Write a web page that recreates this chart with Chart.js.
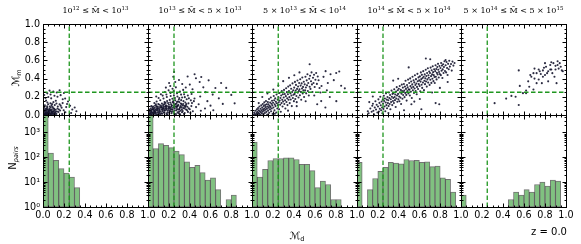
<!DOCTYPE html>
<html>
<head>
<meta charset="utf-8">
<script src="https://cdn.jsdelivr.net/npm/chart.js@4.4.1/dist/chart.umd.min.js"></script>
<style>
body { margin: 0; background: #fff; }
#fig { position: relative; width: 581px; height: 244px; overflow: hidden; background: #fff; }
#fig canvas { position: absolute; left: 0; top: 0; }
.lbl { position: absolute; white-space: nowrap; color: #000; line-height: 1; }
.title { top: 6px; font: 8px "DejaVu Serif", serif; transform: translateX(-50%); }
.title sup { font-size: 5.5px; vertical-align: 3px; line-height: 0; }
.ylab { transform: translate(-50%, -50%) rotate(-90deg); font: 10px "DejaVu Sans", sans-serif; }
.ylab sub, .xlab sub { font-size: 6.5px; vertical-align: -2px; line-height: 0; }
.xlab { transform: translate(-50%, -50%); font: 10px "DejaVu Sans", sans-serif; }
</style>
</head>
<body>
<div id="fig"></div>
<script>
// mass ranges (panel titles)
const massRanges = [
  "10<sup>12</sup> ≤ M̄ &lt; 10<sup>13</sup>",
  "10<sup>13</sup> ≤ M̄ &lt; 5 × 10<sup>13</sup>",
  "5 × 10<sup>13</sup> ≤ M̄ &lt; 10<sup>14</sup>",
  "10<sup>14</sup> ≤ M̄ &lt; 5 × 10<sup>14</sup>",
  "5 × 10<sup>14</sup> ≤ M̄ &lt; 5 × 10<sup>15</sup>"
];

const cut = 0.25;
const xTicks = [0, 0.2, 0.4, 0.6, 0.8, 1.0];
const yTicksTop = [0, 0.2, 0.4, 0.6, 0.8, 1.0];
const yTicksLog = [1, 10, 100, 1000];
const logMax = 5000;

// histogram bins of M_d (centres)
const mdBins = [0.025, 0.075, 0.125, 0.175, 0.225, 0.275, 0.325, 0.375, 0.425, 0.475,
                0.525, 0.575, 0.625, 0.675, 0.725, 0.775, 0.825, 0.875, 0.925, 0.975];

const pairs1 = [9000, 148, 76, 35, 23, 16, 6, null, null, null, null, null, null, null, null, null, null, null, null, null];
const pairs2 = [8000, 224, 355, 302, 245, 178, 128, 65, 39, 47, 24, 12, 15, 5, null, 2, 3, null, null, null];
const pairs3 = [410, 16, 33, 74, 89, 89, 94, 94, 81, 52, 52, 29, 6, 11, 8, 2, 2, null, null, null];
const pairs4 = [62, null, 5, 14, 27, 39, 62, 58, 54, 81, 74, 76, 62, 65, 42, 44, 15, 13, 4, null];
const pairs5 = [3, null, null, null, null, null, null, null, null, 2, 4, 3, 5, 4, 8, 10, 7, 12, 11, null];

// (M_d, M_m) of the pairs
const cloud1 = [
  [0.008,0.004],[0.014,0.019],[0.019,0.008],[0.024,0.031],[0.029,0.013],[0.033,0.044],[0.038,0.006],[0.043,0.024],[0.047,0.057],[0.052,0.011],
  [0.057,0.036],[0.061,0.068],[0.066,0.017],[0.071,0.047],[0.075,0.003],[0.079,0.029],[0.084,0.061],[0.089,0.014],[0.093,0.039],[0.098,0.073],
  [0.103,0.022],[0.108,0.051],[0.113,0.008],[0.118,0.034],[0.011,0.037],[0.016,0.052],[0.022,0.066],[0.027,0.002],[0.031,0.027],[0.036,0.059],
  [0.041,0.079],[0.046,0.016],[0.051,0.043],[0.056,0.004],[0.062,0.026],[0.068,0.057],[0.073,0.082],[0.077,0.012],[0.082,0.044],[0.087,0.027],
  [0.092,0.088],[0.097,0.009],[0.102,0.041],[0.107,0.067],[0.114,0.021],[0.121,0.058],[0.127,0.012],[0.133,0.039],[0.138,0.071],[0.006,0.071],
  [0.013,0.088],[0.039,0.096],[0.064,0.093],[0.021,0.047],[0.048,0.032],[0.059,0.053],[0.026,0.014],[0.034,0.071],[0.017,0.006],[0.044,0.004],
  [0.018,0.107],[0.049,0.118],[0.081,0.102],[0.112,0.109],[0.141,0.093],[0.158,0.118],[0.177,0.081],[0.042,0.138],[0.099,0.141],[0.128,0.127],
  [0.071,0.128],[0.168,0.103],[0.187,0.131],[0.151,0.061],[0.197,0.052],[0.221,0.087],[0.029,0.158],[0.122,0.157],[0.147,0.033],[0.163,0.049],
  [0.086,0.119],
  [0.023,0.187],[0.051,0.198],[0.078,0.183],[0.109,0.212],[0.041,0.238],[0.072,0.226],[0.098,0.258],[0.138,0.201],[0.168,0.218],[0.131,0.247],
  [0.158,0.272],[0.199,0.241],[0.062,0.268],[0.012,0.219],[0.188,0.173],[0.238,0.148],[0.258,0.102],[0.279,0.061],[0.302,0.083],[0.318,0.041],
  [0.268,0.022],[0.229,0.121],[0.211,0.182],[0.183,0.011],[0.213,0.031]
];
const cloud2 = [
  [0.013,0.006],[0.021,0.024],[0.028,0.011],[0.034,0.047],[0.041,0.018],[0.047,0.063],[0.053,0.005],[0.059,0.034],[0.066,0.079],[0.072,0.014],
  [0.078,0.052],[0.084,0.097],[0.091,0.027],[0.097,0.068],[0.103,0.009],[0.109,0.113],[0.116,0.041],[0.122,0.083],[0.128,0.019],[0.134,0.127],
  [0.141,0.056],[0.147,0.094],[0.153,0.031],[0.159,0.142],[0.166,0.071],[0.172,0.107],[0.178,0.012],[0.184,0.153],[0.191,0.046],[0.197,0.088],
  [0.203,0.024],[0.209,0.166],[0.216,0.062],[0.222,0.118],[0.228,0.037],[0.234,0.178],[0.241,0.079],[0.247,0.131],[0.253,0.016],[0.259,0.187],
  [0.266,0.094],[0.272,0.052],[0.278,0.143],[0.284,0.029],[0.291,0.111],[0.297,0.171],[0.303,0.067],[0.309,0.008],[0.316,0.126],[0.322,0.084],
  [0.328,0.192],[0.334,0.043],[0.341,0.152],[0.347,0.101],[0.353,0.022],[0.359,0.138],[0.366,0.061],[0.372,0.173],[0.378,0.091],[0.384,0.034],
  [0.017,0.039],[0.026,0.071],[0.038,0.029],[0.049,0.092],[0.057,0.051],[0.069,0.033],[0.076,0.118],[0.088,0.061],[0.094,0.004],[0.106,0.087],
  [0.113,0.022],[0.124,0.104],[0.137,0.038],[0.144,0.071],[0.156,0.119],[0.163,0.049],[0.174,0.087],[0.186,0.028],[0.193,0.131],[0.206,0.073],
  [0.213,0.041],[0.224,0.096],[0.237,0.057],[0.244,0.154],[0.257,0.073],[0.263,0.119],[0.276,0.081],[0.288,0.148],[0.299,0.037],[0.312,0.097],
  [0.326,0.061],[0.338,0.121],[0.351,0.071],[0.364,0.103],[0.389,0.128],[0.402,0.064],[0.417,0.098],[0.431,0.042],[0.012,0.057],[0.032,0.097],
  [0.061,0.131],[0.083,0.148],[0.118,0.162],[0.149,0.181],[0.181,0.198],[0.218,0.208],[0.249,0.216],[0.283,0.203],[0.318,0.224],[0.354,0.196],
  [0.393,0.183],[0.441,0.152],[0.462,0.087],[0.487,0.118],[0.508,0.046],
  [0.018,0.013],[0.024,0.052],[0.031,0.036],[0.036,0.004],[0.044,0.081],[0.051,0.027],[0.055,0.069],[0.063,0.044],[0.068,0.102],[0.074,0.031],
  [0.081,0.009],[0.086,0.074],[0.093,0.047],[0.099,0.121],[0.104,0.032],[0.111,0.066],[0.119,0.004],[0.126,0.091],[0.131,0.061],[0.138,0.013],
  [0.145,0.109],[0.151,0.077],[0.158,0.026],[0.164,0.093],[0.169,0.133],[0.176,0.059],[0.182,0.098],[0.188,0.004],[0.195,0.067],[0.201,0.112],
  [0.207,0.047],[0.214,0.137],[0.219,0.081],[0.226,0.019],[0.231,0.104],[0.238,0.141],[0.243,0.036],[0.249,0.089],[0.256,0.049],[0.262,0.161],
  [0.269,0.011],[0.274,0.123],[0.281,0.064],[0.287,0.099],[0.294,0.018],[0.301,0.142],[0.307,0.083],[0.314,0.047],[0.319,0.163],[0.327,0.031],
  [0.332,0.104],[0.339,0.076],[0.346,0.012],[0.357,0.089],[0.368,0.119],[0.376,0.052],[0.391,0.073],[0.408,0.023],[0.423,0.131],[0.038,0.061],
  [0.059,0.016],[0.071,0.061],[0.089,0.088],[0.108,0.051],[0.134,0.081],[0.155,0.054],[0.179,0.071],[0.204,0.089],[0.229,0.063],[0.253,0.108],
  [0.279,0.097],[0.297,0.061],[0.323,0.117],
  [0.102,0.187],[0.141,0.213],[0.177,0.226],[0.216,0.243],[0.246,0.262],[0.279,0.238],[0.307,0.257],[0.198,0.271],[0.236,0.289],[0.268,0.304],
  [0.163,0.252],[0.124,0.228],[0.301,0.186],[0.347,0.227],[0.383,0.214],[0.412,0.161],[0.447,0.181],[0.338,0.276],[0.214,0.318],[0.079,0.204],
  [0.262,0.362],[0.243,0.421],[0.251,0.472],[0.298,0.384],[0.329,0.341],[0.363,0.302],[0.402,0.334],[0.428,0.283],[0.461,0.404],[0.497,0.362],
  [0.532,0.304],[0.553,0.251],[0.502,0.203],[0.571,0.152],[0.601,0.103],[0.622,0.224],[0.648,0.297],[0.583,0.381],[0.681,0.183],[0.719,0.122],
  [0.752,0.298],[0.801,0.221],[0.448,0.447],[0.381,0.423],[0.703,0.352],[0.628,0.053],[0.548,0.071],[0.203,0.352],[0.172,0.301],[0.419,0.231],
  [0.833,0.128],[0.512,0.418]
];
const cloud3 = [
  [0.012,0.006],[0.021,0.028],[0.027,0.011],[0.034,0.047],[0.038,0.003],[0.043,0.021],[0.047,0.062],
  [0.051,0.036],[0.054,0.008],[0.058,0.077],[0.061,0.024],[0.064,0.052],[0.068,0.014],[0.071,0.093],[0.074,0.041],[0.078,0.003],[0.081,0.068],
  [0.084,0.029],[0.088,0.106],[0.091,0.051],[0.094,0.017],[0.097,0.083],
  [0.101,0.037],[0.103,0.121],[0.106,0.064],[0.109,0.009],[0.112,0.098],[0.114,0.046],[0.117,0.139],[0.119,0.072],[0.122,0.021],[0.125,0.109],
  [0.128,0.057],[0.131,0.087],[0.133,0.153],[0.136,0.034],[0.139,0.118],[0.142,0.068],[0.145,0.006],[0.148,0.093],
  [0.151,0.142],[0.153,0.048],[0.156,0.117],[0.159,0.081],[0.162,0.176],[0.164,0.024],[0.167,0.101],[0.171,0.063],[0.173,0.138],[0.176,0.089],
  [0.179,0.192],[0.182,0.041],[0.185,0.124],[0.188,0.071],[0.191,0.157],[0.194,0.106],[0.197,0.012],
  [0.201,0.134],[0.204,0.083],[0.207,0.208],[0.211,0.162],[0.214,0.051],[0.217,0.117],[0.221,0.183],[0.224,0.098],[0.227,0.146],[0.231,0.027],
  [0.234,0.226],[0.237,0.129],[0.241,0.071],[0.244,0.171],[0.247,0.108],
  [0.251,0.197],[0.254,0.139],[0.258,0.064],[0.261,0.241],[0.264,0.158],[0.268,0.112],[0.271,0.186],[0.274,0.036],[0.278,0.214],[0.281,0.131],
  [0.284,0.263],[0.288,0.167],[0.291,0.094],[0.294,0.228],[0.297,0.148],
  [0.302,0.192],[0.305,0.276],[0.308,0.121],[0.312,0.231],[0.315,0.162],[0.318,0.071],[0.322,0.207],[0.325,0.294],[0.328,0.143],[0.332,0.251],
  [0.335,0.183],[0.338,0.109],[0.342,0.228],[0.345,0.312],[0.348,0.168],
  [0.352,0.264],[0.356,0.196],[0.359,0.131],[0.363,0.326],[0.366,0.238],[0.369,0.171],[0.373,0.289],[0.376,0.214],[0.379,0.098],[0.383,0.253],
  [0.386,0.347],[0.389,0.186],[0.393,0.272],[0.396,0.223],[0.399,0.152],
  [0.402,0.301],[0.406,0.232],[0.409,0.364],[0.412,0.176],[0.416,0.268],[0.419,0.331],[0.423,0.208],[0.426,0.141],[0.429,0.287],[0.433,0.379],
  [0.436,0.246],[0.439,0.314],[0.443,0.193],[0.446,0.262],[0.449,0.351],
  [0.452,0.282],[0.456,0.217],[0.459,0.393],[0.463,0.323],[0.466,0.254],[0.469,0.168],[0.473,0.347],[0.476,0.291],[0.479,0.412],[0.483,0.236],
  [0.486,0.309],[0.489,0.271],[0.493,0.366],[0.496,0.198],
  [0.502,0.337],[0.506,0.271],[0.509,0.421],[0.513,0.302],[0.516,0.238],[0.521,0.381],[0.524,0.326],[0.528,0.447],[0.532,0.263],[0.536,0.352],
  [0.541,0.214],[0.545,0.398],[0.549,0.311],
  [0.553,0.432],[0.557,0.287],[0.562,0.371],[0.567,0.468],[0.571,0.336],[0.576,0.252],[0.581,0.409],[0.586,0.352],[0.591,0.443],[0.597,0.308],
  [0.604,0.387],[0.611,0.461],[0.618,0.342],[0.626,0.423],[0.634,0.382],[0.643,0.297],
  [0.549,0.558],[0.681,0.419],[0.701,0.482],[0.722,0.352],[0.748,0.447],[0.779,0.383],[0.802,0.461],[0.831,0.478],[0.849,0.322],[0.741,0.198],
  [0.659,0.153],[0.064,0.131],[0.621,0.118],[0.699,0.083],[0.803,0.152],[0.884,0.293],[0.662,0.318],[0.713,0.271],[0.652,0.248],[0.098,0.198],
  [0.147,0.236],[0.203,0.279],[0.251,0.324],[0.297,0.372],[0.352,0.408],[0.403,0.437],[0.452,0.468],[0.218,0.014],[0.343,0.048],[0.426,0.097],
  [0.511,0.151],[0.593,0.214]
];
const cloud4 = [
  [0.112,0.018],[0.128,0.071],[0.141,0.035],[0.147,0.102],
  [0.153,0.124],[0.158,0.047],[0.164,0.009],[0.171,0.083],[0.177,0.151],[0.183,0.061],[0.189,0.112],[0.196,0.027],
  [0.202,0.094],[0.206,0.172],[0.211,0.038],[0.216,0.133],[0.219,0.069],[0.224,0.201],[0.228,0.107],[0.232,0.052],[0.237,0.148],[0.241,0.083],
  [0.244,0.019],[0.248,0.171],
  [0.251,0.126],[0.254,0.067],[0.258,0.211],[0.261,0.154],[0.265,0.093],[0.268,0.182],[0.272,0.041],[0.276,0.137],[0.279,0.238],[0.283,0.108],
  [0.286,0.169],[0.289,0.074],[0.293,0.197],[0.297,0.131],
  [0.301,0.162],[0.304,0.098],[0.307,0.247],[0.311,0.186],[0.314,0.121],[0.318,0.219],[0.321,0.063],[0.325,0.173],[0.328,0.142],[0.332,0.268],
  [0.335,0.201],[0.339,0.109],[0.342,0.232],[0.346,0.154],[0.349,0.187],
  [0.352,0.241],[0.355,0.132],[0.358,0.283],[0.362,0.197],[0.365,0.163],[0.368,0.226],[0.372,0.088],[0.375,0.259],[0.378,0.181],[0.382,0.306],
  [0.385,0.214],[0.388,0.146],[0.392,0.272],[0.395,0.232],[0.398,0.172],
  [0.402,0.289],[0.405,0.203],[0.408,0.151],[0.411,0.318],[0.414,0.247],[0.418,0.191],[0.421,0.276],[0.424,0.121],[0.428,0.233],[0.431,0.334],
  [0.434,0.264],[0.437,0.178],[0.441,0.301],[0.444,0.219],[0.447,0.252],
  [0.451,0.341],[0.454,0.268],[0.457,0.196],[0.461,0.312],[0.464,0.243],[0.467,0.377],[0.471,0.287],[0.474,0.221],[0.477,0.158],[0.481,0.329],
  [0.484,0.262],[0.487,0.304],[0.491,0.389],[0.494,0.236],[0.497,0.282],
  [0.502,0.351],[0.505,0.278],[0.508,0.214],[0.511,0.402],[0.514,0.317],[0.518,0.256],[0.521,0.368],[0.524,0.297],[0.527,0.186],[0.531,0.336],
  [0.534,0.421],[0.537,0.272],[0.541,0.309],[0.544,0.382],[0.548,0.243],
  [0.551,0.358],[0.554,0.291],[0.557,0.437],[0.561,0.329],[0.564,0.264],[0.567,0.394],[0.571,0.346],[0.574,0.228],[0.577,0.309],[0.581,0.452],
  [0.584,0.371],[0.587,0.286],[0.591,0.413],[0.594,0.339],[0.598,0.381],
  [0.602,0.318],[0.605,0.424],[0.608,0.261],[0.611,0.367],[0.614,0.468],[0.618,0.394],[0.621,0.332],[0.624,0.441],[0.627,0.298],[0.631,0.407],
  [0.634,0.356],[0.637,0.482],[0.641,0.421],[0.644,0.273],[0.648,0.377],
  [0.651,0.446],[0.654,0.339],[0.657,0.403],[0.661,0.497],[0.664,0.368],[0.667,0.428],[0.671,0.312],[0.674,0.462],[0.677,0.391],[0.681,0.514],
  [0.684,0.356],[0.687,0.437],[0.691,0.409],[0.694,0.478],[0.698,0.331],
  [0.702,0.462],[0.705,0.388],[0.708,0.521],[0.712,0.427],[0.715,0.353],[0.718,0.491],[0.722,0.446],[0.725,0.398],[0.728,0.536],[0.732,0.471],
  [0.735,0.372],[0.738,0.438],[0.742,0.503],[0.745,0.417],[0.748,0.352],
  [0.752,0.482],[0.755,0.547],[0.758,0.421],[0.762,0.506],[0.765,0.391],[0.768,0.463],[0.772,0.528],[0.775,0.446],[0.779,0.562],[0.782,0.497],
  [0.786,0.412],[0.789,0.473],[0.793,0.538],[0.796,0.451],
  [0.802,0.517],[0.806,0.438],[0.809,0.572],[0.813,0.486],[0.817,0.543],[0.821,0.407],[0.824,0.501],[0.828,0.558],[0.832,0.462],[0.836,0.527],
  [0.841,0.591],[0.846,0.483],
  [0.852,0.546],[0.857,0.468],[0.861,0.583],[0.866,0.517],[0.871,0.439],[0.876,0.562],[0.882,0.503],[0.887,0.596],[0.893,0.532],
  [0.904,0.561],[0.911,0.488],[0.918,0.587],[0.927,0.543],[0.938,0.572],
  [0.662,0.621],[0.704,0.613],[0.852,0.604],[0.872,0.362],[0.797,0.298],[0.722,0.247],[0.604,0.176],[0.523,0.118],[0.152,0.203],[0.104,0.041],
  [0.452,0.052],[0.551,0.147],[0.619,0.063],[0.756,0.131],[0.791,0.118],[0.348,0.378],[0.497,0.523],[0.302,0.021],[0.118,0.142],[0.396,0.398]
];
const cloud5 = [
  [0.32,0.13],[0.43,0.18],[0.48,0.21],[0.52,0.2],[0.55,0.11],[0.55,0.49],[0.56,0.32],[0.59,0.24],[0.62,0.27],[0.62,0.24],
  [0.64,0.37],[0.65,0.31],[0.67,0.42],[0.69,0.46],[0.69,0.28],[0.7,0.51],[0.72,0.46],[0.72,0.35],[0.74,0.39],[0.75,0.48],
  [0.77,0.35],[0.78,0.49],[0.78,0.42],[0.8,0.44],[0.81,0.53],[0.83,0.48],[0.83,0.37],[0.85,0.55],[0.86,0.5],[0.88,0.57],
  [0.89,0.42],[0.9,0.54],[0.91,0.35],[0.92,0.59],[0.93,0.51],[0.94,0.57],[0.96,0.49],[0.97,0.48],[0.76,0.45],[0.79,0.52],
  [0.82,0.46],[0.85,0.5],[0.87,0.46],[0.9,0.5],[0.92,0.55],[0.95,0.53],[0.86,0.58],[0.8,0.57],[0.74,0.5],[0.7,0.4],[0.66,0.44]
];

const clouds = [cloud1, cloud2, cloud3, cloud4, cloud5];
const pairs = [pairs1, pairs2, pairs3, pairs4, pairs5];

// figure geometry
const W = 581, H = 244;
const colEdges = [43, 148, 252, 357, 461, 566];
const rowEdges = [24, 115, 207];

const green = '#1f961f';
const sup = ['⁰', '¹', '²', '³', '⁴'];

Chart.defaults.font.family = "'DejaVu Sans', sans-serif";
Chart.defaults.font.size = 9.6;
Chart.defaults.color = '#000';

// box + inward major/minor ticks on all four sides
const frame = {
  id: 'frame',
  afterDraw(chart) {
    const { ctx, chartArea: a, scales: { x, y } } = chart;
    const L = a.left + 0.5, R = a.right + 0.5, T = a.top + 0.5, B = a.bottom + 0.5;
    ctx.save();
    ctx.strokeStyle = '#000';
    ctx.lineWidth = 1;
    ctx.beginPath();
    const xt = (v, len) => {
      const p = Math.round(x.getPixelForValue(v)) + 0.5;
      ctx.moveTo(p, B); ctx.lineTo(p, B - len);
      ctx.moveTo(p, T); ctx.lineTo(p, T + len);
    };
    const yt = (v, len) => {
      const p = Math.round(y.getPixelForValue(v)) + 0.5;
      ctx.moveTo(L, p); ctx.lineTo(L + len, p);
      ctx.moveTo(R, p); ctx.lineTo(R - len, p);
    };
    for (let i = 0; i <= 20; i++) xt(i * 0.05, i % 4 === 0 ? 4 : 2);
    if (y.type === 'logarithmic') {
      yTicksLog.forEach(d => {
        yt(d, 4);
        for (let m = 2; m <= 9; m++) if (d * m < logMax) yt(d * m, 2);
      });
    } else {
      for (let i = 0; i <= 20; i++) yt(i * 0.05, i % 4 === 0 ? 4 : 2);
    }
    ctx.stroke();
    ctx.strokeRect(L, T, R - L, B - T);
    ctx.restore();
  }
};

const fig = document.getElementById('fig');

function panel(row, col) {
  const cv = document.createElement('canvas');
  cv.width = W; cv.height = H;
  fig.appendChild(cv);

  const left = colEdges[col], right = colEdges[col + 1];
  const top = rowEdges[row], bottom = rowEdges[row + 1];
  const yW = col === 0 ? 30 : 0;
  const xH = row === 1 ? 20 : 0;

  const dashed = {
    type: 'line', showLine: true, borderColor: green, borderWidth: 1.3,
    borderDash: [4.5, 2.5], pointRadius: 0, fill: false, order: 0
  };

  let datasets, yScale, type;
  if (row === 0) {
    type = 'scatter';
    datasets = [
      Object.assign({ data: [{ x: 0, y: cut }, { x: 1, y: cut }] }, dashed),
      Object.assign({ data: [{ x: cut, y: 0 }, { x: cut, y: 1 }] }, dashed),
      {
        type: 'scatter', order: 1,
        data: clouds[col].map(p => ({ x: p[0], y: p[1] })),
        pointRadius: 1.05, pointBorderWidth: 0,
        pointBackgroundColor: 'rgba(15,15,40,0.88)'
      }
    ];
    yScale = {
      type: 'linear', min: 0, max: 1,
      afterBuildTicks: s => { s.ticks = yTicksTop.map(v => ({ value: v })); },
      ticks: { display: col === 0, padding: 3, callback: v => Number(v).toFixed(1) }
    };
  } else {
    type = 'bar';
    datasets = [
      Object.assign({ data: [{ x: cut, y: 1 }, { x: cut, y: logMax }] }, dashed),
      {
        type: 'bar', order: 1,
        data: mdBins.map((b, i) => ({ x: b, y: pairs[col][i] })),
        backgroundColor: '#80c180', borderColor: 'rgba(0,0,0,0.55)',
        borderWidth: 1, borderSkipped: false,
        barPercentage: 1, categoryPercentage: 1
      }
    ];
    yScale = {
      type: 'logarithmic', min: 1, max: logMax,
      afterBuildTicks: s => { s.ticks = yTicksLog.map(v => ({ value: v })); },
      ticks: {
        display: col === 0, padding: 3, autoSkip: false,
        callback: v => '10' + sup[Math.round(Math.log10(v))]
      }
    };
  }

  Object.assign(yScale, {
    position: 'left',
    grid: { display: false, drawTicks: false },
    border: { display: false },
    afterFit: s => { s.width = yW; }
  });

  new Chart(cv, {
    type,
    data: { datasets },
    options: {
      responsive: false,
      animation: false,
      events: [],
      layout: {
        autoPadding: false,
        padding: { left: left - yW, right: W - right, top: top, bottom: H - bottom - xH }
      },
      plugins: { legend: { display: false }, tooltip: { enabled: false } },
      scales: {
        x: {
          type: 'linear', min: 0, max: 1, offset: false, position: 'bottom',
          grid: { display: false, drawTicks: false, offset: false },
          border: { display: false },
          afterBuildTicks: s => { s.ticks = xTicks.map(v => ({ value: v })); },
          afterFit: s => { s.height = xH; },
          ticks: {
            display: row === 1, padding: 3, autoSkip: false, maxRotation: 0,
            callback: v => (col > 0 && v === 0) ? '' : Number(v).toFixed(1)
          }
        },
        y: yScale
      }
    },
    plugins: [frame]
  });
}

for (let r = 0; r < 2; r++)
  for (let c = 0; c < 5; c++) panel(r, c);

// text around the panels
function label(cls, html, x, y) {
  const d = document.createElement('div');
  d.className = 'lbl ' + cls;
  d.innerHTML = html;
  d.style.left = x + 'px';
  d.style.top = y + 'px';
  fig.appendChild(d);
}
massRanges.forEach((t, c) => label('title', t, (colEdges[c] + colEdges[c + 1]) / 2, 6));
label('ylab', 'ℳ<sub>m</sub>', 15, 78);
label('ylab', 'N<sub><i>pairs</i></sub>', 12, 158);
label('xlab', 'ℳ<sub>d</sub>', 297, 235);
label('xlab', 'z = 0.0', 549, 231);
</script>
</body>
</html>
